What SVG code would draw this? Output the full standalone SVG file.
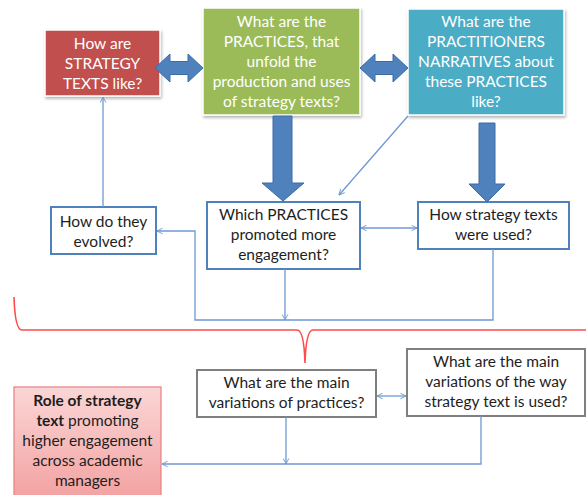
<svg xmlns="http://www.w3.org/2000/svg" width="586" height="495" viewBox="0 0 586 495">
  <defs>
    <style>
      .t { font-family: Lato, "Open Sans", "Liberation Sans", sans-serif; font-size: 15.5px; text-anchor: middle; }
      .w { fill: #ffffff; }
      .d { fill: #1e1e1e; }
      .b { font-weight: bold; }
      .top { stroke: #ffffff; stroke-width: 1.5; filter: url(#shadow); }
      .mid { fill: #ffffff; stroke: #4f81bd; stroke-width: 2; }
      .gray { fill: #ffffff; stroke: #7f7f7f; stroke-width: 2; }
      .big { fill: #4f81bd; stroke: #3c6ca8; stroke-width: 1; }
      .thin { fill: none; stroke: #6f98d2; stroke-width: 1.3; }
      .brace { fill: none; stroke: #ff4a4a; stroke-width: 1.6; }
    </style>
    <filter id="shadow" x="-10%" y="-10%" width="125%" height="130%">
      <feDropShadow dx="1" dy="2" stdDeviation="1.5" flood-color="#000000" flood-opacity="0.3"/>
    </filter>
    <linearGradient id="pink" x1="0" y1="0" x2="0" y2="1">
      <stop offset="0" stop-color="#fbd6d6"/>
      <stop offset="1" stop-color="#f3a0a0"/>
    </linearGradient>
    <marker id="arr" viewBox="0 0 10 10" refX="9" refY="5" markerWidth="7" markerHeight="7" orient="auto-start-reverse" markerUnits="userSpaceOnUse">
      <path d="M1,1 L9,5 L1,9" fill="none" stroke="#6f98d2" stroke-width="1.3"/>
    </marker>
  </defs>

  <!-- top row -->
  <g id="strategy-texts">
    <rect class="top" x="45" y="30" width="115" height="66" fill="#c0504d"/>
    <text class="t w" x="102.5" y="49">How  are</text>
    <text class="t w" x="102.5" y="69">STRATEGY</text>
    <text class="t w" x="102.5" y="89">TEXTS like?</text>
  </g>

  <g id="practices">
    <rect class="top" x="203" y="8" width="157" height="107" fill="#9bbb59"/>
    <text class="t w" x="281.5" y="27">What are the</text>
    <text class="t w" x="281.5" y="47">PRACTICES, that</text>
    <text class="t w" x="281.5" y="67">unfold the</text>
    <text class="t w" x="281.5" y="87">production and uses</text>
    <text class="t w" x="281.5" y="107">of strategy texts?</text>
  </g>

  <g id="narratives">
    <rect class="top" x="408" y="9" width="156" height="106" fill="#4bacc6"/>
    <text class="t w" x="486" y="27">What are the</text>
    <text class="t w" x="486" y="47">PRACTITIONERS</text>
    <text class="t w" x="486" y="67">NARRATIVES about</text>
    <text class="t w" x="486" y="87">these PRACTICES</text>
    <text class="t w" x="486" y="107">like?</text>
  </g>

  <!-- middle row -->
  <g id="evolved">
    <rect class="mid" x="51" y="207" width="105" height="47"/>
    <text class="t d" x="103.5" y="227">How do they</text>
    <text class="t d" x="103.5" y="247">evolved?</text>
  </g>

  <g id="engagement">
    <rect class="mid" x="207" y="202" width="153" height="67"/>
    <text class="t d" x="283.5" y="220">Which PRACTICES</text>
    <text class="t d" x="283.5" y="240">promoted more</text>
    <text class="t d" x="283.5" y="260">engagement?</text>
  </g>

  <g id="usage">
    <rect class="mid" x="418" y="202" width="151" height="47"/>
    <text class="t d" x="493.5" y="220">How strategy texts</text>
    <text class="t d" x="493.5" y="240">were used?</text>
  </g>

  <!-- bottom row -->
  <g id="practice-variations">
    <rect class="gray" x="197" y="370" width="179" height="47"/>
    <text class="t d" x="286.5" y="388">What are the main</text>
    <text class="t d" x="286.5" y="408">variations of practices?</text>
  </g>

  <g id="usage-variations">
    <rect class="gray" x="407" y="349" width="178" height="67"/>
    <text class="t d" x="496" y="367">What are the main</text>
    <text class="t d" x="496" y="387">variations of the way</text>
    <text class="t d" x="496" y="407">strategy text is used?</text>
  </g>

  <g id="role">
    <rect x="14" y="387" width="147" height="115" fill="url(#pink)" stroke="#e58080" stroke-width="1.2"/>
    <text class="t d b" x="87.5" y="406">Role of strategy</text>
    <text class="t d" x="87.5" y="426"><tspan class="b">text</tspan> promoting</text>
    <text class="t d" x="87.5" y="446">higher engagement</text>
    <text class="t d" x="87.5" y="466">across academic</text>
    <text class="t d" x="87.5" y="486">managers</text>
  </g>

  <!-- connectors -->
  <g id="connectors">
    <!-- block arrows -->
    <polygon class="big" points="155,68 170,54 170,61.5 188,61.5 188,54 203,68 188,82 188,74.5 170,74.5 170,82"/>
    <polygon class="big" points="360,68 375,54 375,61.5 393,61.5 393,54 408,68 393,82 393,74.5 375,74.5 375,82"/>
    <polygon class="big" points="273,116 292,116 292,183 304,183 283,201 262,183 273,183"/>
    <polygon class="big" points="479,123 495,123 495,184 505,184 487,202 469,184 479,184"/>

    <!-- thin connectors -->
    <line class="thin" x1="408" y1="116" x2="339" y2="195" marker-end="url(#arr)"/>
    <line class="thin" x1="103" y1="207" x2="103" y2="97" marker-end="url(#arr)"/>
    <line class="thin" x1="361" y1="228" x2="417" y2="228" marker-start="url(#arr)" marker-end="url(#arr)"/>
    <polyline class="thin" points="493,249 493,320 195,320 195,231 157,231" marker-end="url(#arr)"/>
    <line class="thin" x1="285" y1="269" x2="285" y2="320" marker-end="url(#arr)"/>

    <line class="thin" x1="377" y1="396" x2="406" y2="396" marker-start="url(#arr)" marker-end="url(#arr)"/>
    <polyline class="thin" points="481,416 481,464 162,464" marker-end="url(#arr)"/>
    <line class="thin" x1="286" y1="417" x2="286" y2="464" marker-end="url(#arr)"/>

    <!-- curly brace -->
    <path class="brace" d="M14,297 Q15,330 22,330 L297,330 Q304,330 305,363 Q306,330 313,330 L600,330"/>
  </g>
</svg>
